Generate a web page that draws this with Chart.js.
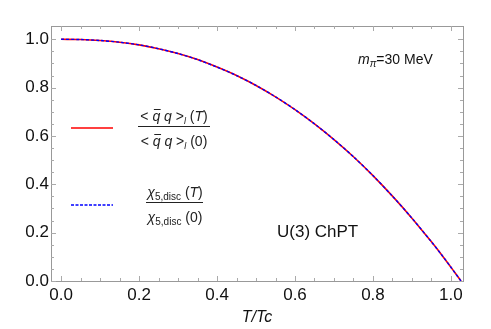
<!DOCTYPE html>
<html>
<head>
<meta charset="utf-8">
<script src="https://cdn.jsdelivr.net/npm/chart.js@4.4.0/dist/chart.umd.min.js"></script>
<style>
  html, body { margin: 0; padding: 0; background: #fff; }
  #wrap { width: 491px; height: 329px; }
</style>
</head>
<body>
<div id="wrap"><canvas id="grafico" width="491" height="329"></canvas></div>
<script>
// T/Tc valores
const tRatio = [0, 0.05, 0.1, 0.15, 0.2, 0.25, 0.3, 0.35, 0.4, 0.45, 0.5, 0.55, 0.6, 0.65, 0.7, 0.75, 0.8, 0.85, 0.9, 0.95, 0.975, 1.0, 1.01, 1.026];
// condensado normalizado <qq>_l(T)/<qq>_l(0)
const condensado = [1.0, 0.999, 0.995, 0.988, 0.977, 0.961, 0.941, 0.916, 0.885, 0.85, 0.809, 0.762, 0.709, 0.65, 0.585, 0.514, 0.436, 0.351, 0.26, 0.162, 0.111, 0.057, 0.035, 0.0];
// chi_5,disc(T)/chi_5,disc(0)
const chiDisc = [1.0, 0.999, 0.995, 0.988, 0.977, 0.961, 0.941, 0.916, 0.885, 0.85, 0.809, 0.762, 0.709, 0.65, 0.585, 0.514, 0.436, 0.351, 0.26, 0.162, 0.111, 0.057, 0.035, 0.0];
const xTicks = [0.0, 0.2, 0.4, 0.6, 0.8, 1.0];
const yTicks = [0.0, 0.2, 0.4, 0.6, 0.8, 1.0];

const pontos = (ys) => tRatio.map((t, i) => ({ x: t, y: ys[i] }));

// escreve texto com partes de fontes diferentes, centrado em cx
function textoRico(ctx, partes, cx, y, alinhar) {
    let total = 0;
    partes.forEach(p => { ctx.font = p.f; p.w = ctx.measureText(p.t).width; total += p.w; });
    let x = alinhar === 'left' ? cx : cx - total / 2;
    ctx.textBaseline = 'alphabetic';
    ctx.textAlign = 'left';
    partes.forEach(p => {
        ctx.font = p.f;
        ctx.fillText(p.t, x, y + (p.dy || 0));
        if (p.barra) {
            ctx.save();
            ctx.lineWidth = 1;
            ctx.beginPath();
            ctx.moveTo(x + 1.5, y - 11.5);
            ctx.lineTo(x + p.w + 0.5, y - 11.5);
            ctx.stroke();
            ctx.restore();
        }
        x += p.w;
    });
    return total;
}

const moldura = {
    id: 'moldura',
    afterDraw(chart) {
        const ctx = chart.ctx;
        const a = chart.chartArea;
        const sx = chart.scales.x, sy = chart.scales.y;
        ctx.save();
        ctx.strokeStyle = '#999';
        ctx.lineWidth = 1;
        ctx.strokeRect(a.left + 0.5, a.top + 0.5, a.right - a.left, a.bottom - a.top);
        // ticks para dentro (maiores e menores)
        ctx.strokeStyle = '#aaa';
        ctx.beginPath();
        for (let k = 0; k <= 20; k++) {
            const v = k * 0.05;
            const len = k % 4 === 0 ? 5 : 3;
            const px = Math.round(sx.getPixelForValue(v)) + 0.5;
            ctx.moveTo(px, a.bottom); ctx.lineTo(px, a.bottom - len);
            ctx.moveTo(px, a.top); ctx.lineTo(px, a.top + len);
            const py = Math.round(sy.getPixelForValue(v)) + 0.5;
            ctx.moveTo(a.left, py); ctx.lineTo(a.left + len, py);
            ctx.moveTo(a.right, py); ctx.lineTo(a.right - len, py);
        }
        ctx.stroke();

        // legenda
        ctx.lineWidth = 1.5;
        ctx.strokeStyle = '#ff0000';
        ctx.beginPath(); ctx.moveTo(71, 128); ctx.lineTo(113, 128); ctx.stroke();
        ctx.strokeStyle = '#0000ff';
        ctx.setLineDash([3, 1.5]);
        ctx.beginPath(); ctx.moveTo(71, 205); ctx.lineTo(113, 205); ctx.stroke();
        ctx.setLineDash([]);

        ctx.fillStyle = '#222';
        ctx.strokeStyle = '#222';
        const n = '14px "Liberation Sans", Arial, sans-serif';
        const it = 'italic 14px "Liberation Sans", Arial, sans-serif';
        const sub = 'italic 9px "Liberation Sans", Arial, sans-serif';
        const subN = '10px "Liberation Sans", Arial, sans-serif';
        const frac1 = (arg, argF) => [
            { t: '< ', f: n }, { t: 'q', f: it, barra: true }, { t: ' q', f: it }, { t: ' >', f: n },
            { t: 'l', f: sub, dy: 3 }, { t: ' (', f: n }, { t: arg, f: argF }, { t: ')', f: n }
        ];
        textoRico(ctx, frac1('T', it), 174, 121);
        textoRico(ctx, frac1('0', n), 174, 146);
        ctx.lineWidth = 1;
        ctx.beginPath(); ctx.moveTo(138, 126.5); ctx.lineTo(210, 126.5); ctx.stroke();

        const frac2 = (arg, argF) => [
            { t: 'χ', f: it }, { t: '5,disc', f: subN, dy: 3 }, { t: ' (', f: n }, { t: arg, f: argF }, { t: ')', f: n }
        ];
        textoRico(ctx, frac2('T', it), 175, 197);
        textoRico(ctx, frac2('0', n), 175, 222);
        ctx.beginPath(); ctx.moveTo(146, 202.5); ctx.lineTo(203, 202.5); ctx.stroke();

        // anotações
        ctx.fillStyle = '#111';
        textoRico(ctx, [
            { t: 'm', f: 'italic 14px "Liberation Sans", Arial, sans-serif' },
            { t: 'π', f: 'italic 10px "Liberation Sans", Arial, sans-serif', dy: 3 },
            { t: '=30 MeV', f: '14px "Liberation Sans", Arial, sans-serif' }
        ], 358, 64, 'left');
        ctx.font = '17px "Liberation Sans", Arial, sans-serif';
        ctx.textAlign = 'left';
        ctx.fillText('U(3) ChPT', 277, 237);
        ctx.restore();
    }
};

document.addEventListener('DOMContentLoaded', function () {
    const ctx = document.getElementById('grafico').getContext('2d');
    new Chart(ctx, {
        type: 'line',
        data: {
            datasets: [{
                label: '<qq>_l(T)/<qq>_l(0)',
                data: pontos(condensado),
                borderColor: '#ff0000',
                borderWidth: 1.6,
                pointRadius: 0,
                tension: 0.3,
                order: 1
            }, {
                label: 'chi_5,disc(T)/chi_5,disc(0)',
                data: pontos(chiDisc),
                borderColor: '#0000ff',
                borderWidth: 1.4,
                borderDash: [3, 2],
                pointRadius: 0,
                tension: 0.3,
                order: 0
            }]
        },
        options: {
            responsive: false,
            animation: false,
            layout: { padding: { top: 26, right: 28, left: 0, bottom: 0 } },
            plugins: { legend: { display: false }, tooltip: { enabled: false } },
            scales: {
                x: {
                    type: 'linear',
                    min: -0.026,
                    max: 1.031,
                    afterBuildTicks: (s) => { s.ticks = xTicks.map(v => ({ value: v })); },
                    afterFit: (s) => { s.height = 48; },
                    grid: { display: false, drawTicks: false },
                    border: { display: false },
                    ticks: {
                        color: '#111',
                        padding: 4,
                        maxRotation: 0,
                        font: { family: '"Liberation Sans", Arial, sans-serif', size: 17 },
                        callback: (v) => Number(v).toFixed(1)
                    },
                    title: {
                        display: true,
                        text: 'T/Tc',
                        color: '#111',
                        padding: { top: 0, bottom: 2 },
                        font: { family: '"Liberation Sans", Arial, sans-serif', size: 16, style: 'italic' }
                    }
                },
                y: {
                    type: 'linear',
                    min: 0,
                    max: 1.055,
                    afterBuildTicks: (s) => { s.ticks = yTicks.map(v => ({ value: v })); },
                    afterFit: (s) => { s.width = 51; },
                    grid: { display: false, drawTicks: false },
                    border: { display: false },
                    ticks: {
                        color: '#111',
                        padding: 2,
                        font: { family: '"Liberation Sans", Arial, sans-serif', size: 17 },
                        callback: (v) => Number(v).toFixed(1)
                    }
                }
            }
        },
        plugins: [moldura]
    });
});
</script>
</body>
</html>
